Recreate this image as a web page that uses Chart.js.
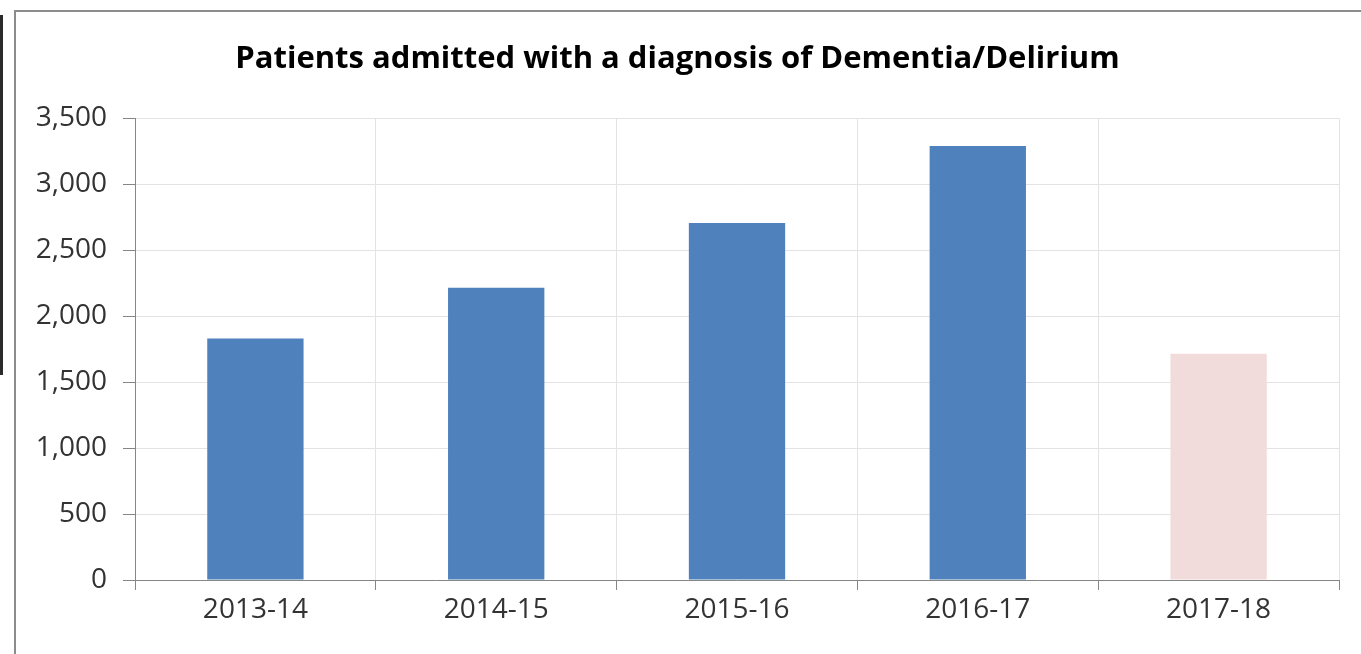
<!DOCTYPE html>
<html>
<head>
<meta charset="utf-8">
<script src="https://cdn.jsdelivr.net/npm/chart.js@4"></script>
<style>
    html, body { margin: 0; padding: 0; background: #fff; }
    body { width: 1361px; height: 654px; position: relative; overflow: hidden; }
    #mark { position: absolute; left: 0; top: 15px; width: 3px; height: 360px; background: #2b2b2b; }
    #frame { position: absolute; left: 14px; top: 10px; width: 1347px; height: 644px;
             border-top: 2px solid #8c8c8c; border-left: 2px solid #8c8c8c; box-sizing: border-box; }
    #wrap { position: absolute; left: 16px; top: 12px; width: 1345px; height: 642px; }
</style>
</head>
<body>
<div id="mark"></div>
<div id="frame"></div>
<div id="wrap"><canvas id="dementiaChart"></canvas></div>
<script>
var years = ['2013-14', '2014-15', '2015-16', '2016-17', '2017-18'];
var admittedPatients = [1830, 2215, 2705, 3290, 1715];
var yTicks = [0, 500, 1000, 1500, 2000, 2500, 3000, 3500];

(function () {
    'use strict';

    var barColors = ['#4f81bd', '#4f81bd', '#4f81bd', '#4f81bd', '#f2dcdb'];

    var ctx = document.getElementById('dementiaChart').getContext('2d');
    new Chart(ctx, {
        type: 'bar',
        data: {
            labels: years,
            datasets: [{
                label: 'Patients admitted',
                data: admittedPatients,
                backgroundColor: barColors,
                borderWidth: 0,
                barPercentage: 0.5,
                categoryPercentage: 0.8
            }]
        },
        options: {
            responsive: true,
            maintainAspectRatio: false,
            animation: false,
            layout: { padding: { left: 0, right: 22, top: 0, bottom: 0 } },
            plugins: {
                legend: { display: false },
                tooltip: { enabled: false },
                title: {
                    display: true,
                    text: 'Patients admitted with a diagnosis of Dementia/Delirium',
                    color: '#000',
                    font: { family: 'Open Sans', size: 31, weight: 'bold' },
                    padding: { top: 29, bottom: 40 }
                }
            },
            scales: {
                x: {
                    grid: { color: '#e3e3e3', tickColor: '#868686', tickLength: 10, offset: true },
                    border: { color: '#868686', width: 1 },
                    ticks: { color: '#333', font: { family: 'Open Sans', size: 28 }, padding: 3 },
                    afterFit: function (scale) { scale.height = 74; }
                },
                y: {
                    min: 0,
                    max: 3500,
                    afterBuildTicks: function (scale) {
                        scale.ticks = yTicks.map(function (v) { return { value: v }; });
                    },
                    grid: { color: '#e3e3e3', tickColor: '#868686', tickLength: 12 },
                    border: { color: '#868686', width: 1 },
                    ticks: {
                        color: '#333',
                        font: { family: 'Open Sans', size: 28 },
                        padding: 16,
                        callback: function (v) { return v.toLocaleString('en-US'); }
                    },
                    afterFit: function (scale) { scale.width = 119; }
                }
            }
        }
    });
})();
</script>
</body>
</html>
